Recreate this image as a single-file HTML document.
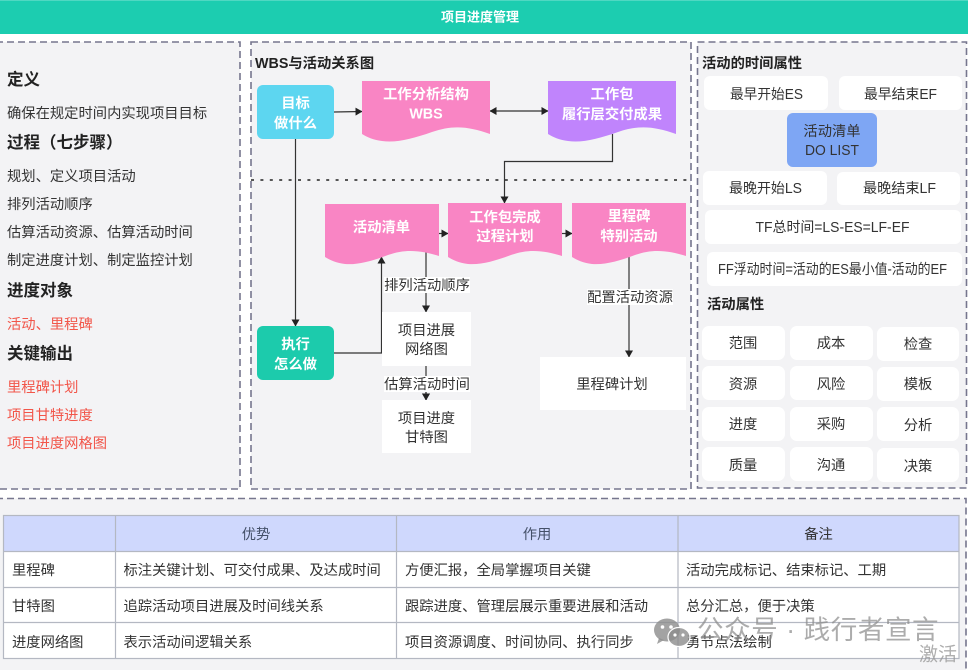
<!DOCTYPE html>
<html lang="zh">
<head>
<meta charset="utf-8">
<title>项目进度管理</title>
<style>
html,body{margin:0;padding:0;background:#fff;width:968px;height:670px;overflow:hidden}
svg{display:block;filter:blur(.3px)}
text{font-family:"Liberation Sans","Noto Sans CJK SC",sans-serif;font-size:14.3px;fill:#333;dominant-baseline:central;transform:translateY(1px)}
.c{text-anchor:middle}
.b{font-weight:700;fill:#222}
.h{font-size:16.5px;font-weight:700;fill:#222}
.t{font-size:14.3px;font-weight:700;fill:#222}
.w{font-weight:700;fill:#fff;text-anchor:middle}
.r{fill:#f2564a}
.p{fill:#f3f3f5;stroke:#76768e;stroke-width:1.6;stroke-dasharray:7 4}
.l{stroke:#333;stroke-width:1.2;fill:none}
.n{fill:#fff}
</style>
</head>
<body>
<svg width="968" height="670" viewBox="0 0 968 670" xmlns="http://www.w3.org/2000/svg">
<defs>
<marker id="a" markerWidth="7" markerHeight="8" refX="6.5" refY="4" orient="auto-start-reverse" markerUnits="userSpaceOnUse"><path d="M0 0L7 4L0 8Z" fill="#222"/></marker>
</defs>
<rect width="968" height="670" fill="#fff"/>
<rect width="968" height="34" fill="#1ccdb0"/>
<rect width="968" height="1" fill="#4fd8c2"/>
<text class="w" x="480" y="16" style="font-size:13px">项目进度管理</text>

<!-- panels -->
<rect class="p" x="-4" y="42" width="244" height="447"/>
<rect class="p" x="251" y="42" width="440" height="447"/>
<rect class="p" x="697.500" y="42" width="269" height="446"/>
<rect class="p" x="-4" y="498.500" width="970" height="180"/>

<!-- left -->
<text class="h" x="7" y="79">定义</text>
<text x="7" y="113">确保在规定时间内实现项目目标</text>
<text class="h" x="7" y="142">过程（七步骤）</text>
<text x="7" y="176">规划、定义项目活动</text>
<text x="7" y="204">排列活动顺序</text>
<text x="7" y="232">估算活动资源、估算活动时间</text>
<text x="7" y="260">制定进度计划、制定监控计划</text>
<text class="h" x="7" y="290">进度对象</text>
<text class="r" x="7" y="324">活动、里程碑</text>
<text class="h" x="7" y="353">关键输出</text>
<text class="r" x="7" y="387">里程碑计划</text>
<text class="r" x="7" y="415">项目甘特进度</text>
<text class="r" x="7" y="443">项目进度网格图</text>

<!-- middle -->
<text class="t" x="255" y="63">WBS与活动关系图</text>
<line x1="251" y1="180" x2="691" y2="180" stroke="#222" stroke-width="1.6" stroke-dasharray="3 6.4"/>

<line class="l" x1="295.500" y1="139" x2="295.500" y2="326" marker-end="url(#a)"/>
<line class="l" x1="334" y1="112" x2="362" y2="111.500" marker-end="url(#a)"/>
<line class="l" x1="490" y1="111" x2="548" y2="111" marker-start="url(#a)" marker-end="url(#a)"/>
<path class="l" d="M612.500 134V161.500H504.500V203" marker-end="url(#a)"/>
<path class="l" d="M334 353H381.500V257" marker-end="url(#a)"/>
<line class="l" x1="439" y1="233.500" x2="448" y2="233.500" marker-end="url(#a)"/>
<line class="l" x1="562" y1="233.500" x2="572" y2="233.500" marker-end="url(#a)"/>
<line class="l" x1="426" y1="252" x2="426" y2="312" marker-end="url(#a)"/>
<line class="l" x1="426" y1="366" x2="426" y2="400" marker-end="url(#a)"/>
<line class="l" x1="629" y1="257" x2="629" y2="357" marker-end="url(#a)"/>

<rect x="257" y="85" width="77" height="54" rx="6" fill="#5dd6f0"/>
<text class="w" x="295.500" y="103">目标</text>
<text class="w" x="295.500" y="123">做什么</text>

<path d="M362 81H490V134C468 126 452 125 432 132C412 139 396 143 382 141C373 140 367 137 362 134Z" fill="#f985c4"/>
<text class="w" x="426" y="94">工作分析结构</text>
<text class="w" x="426" y="113.500">WBS</text>

<path d="M548 81H676V134C654 126 638 125 618 132C598 139 582 143 568 141C559 140 553 137 548 134Z" fill="#c084fc"/>
<text class="w" x="612" y="94">工作包</text>
<text class="w" x="612" y="114">履行层交付成果</text>

<rect x="257" y="326" width="77" height="54" rx="6" fill="#1ccbac"/>
<text class="w" x="295.500" y="344">执行</text>
<text class="w" x="295.500" y="364">怎么做</text>

<path d="M325 204H439V256C420 250 405 249 388 255C372 261 358 265 345 264C336 263 330 260 325 257Z" fill="#f985c4"/>
<text class="w" x="381.500" y="227">活动清单</text>
<path d="M448 203H562V256C543 250 528 249 511 255C495 261 481 265 468 264C459 263 453 260 448 257Z" fill="#f985c4"/>
<text class="w" x="505" y="217">工作包完成</text>
<text class="w" x="505" y="236">过程计划</text>
<path d="M572 203H686V256C667 250 652 249 635 255C619 261 605 265 592 264C583 263 577 260 572 257Z" fill="#f985c4"/>
<text class="w" x="629" y="216">里程碑</text>
<text class="w" x="629" y="236">特别活动</text>

<rect class="n" x="384" y="277" width="86" height="16"/>
<text class="c" x="427" y="285">排列活动顺序</text>
<rect class="n" x="382" y="312" width="89" height="54"/>
<text class="c" x="426.500" y="330">项目进展</text>
<text class="c" x="426.500" y="349">网络图</text>
<rect class="n" x="384" y="376" width="86" height="16"/>
<text class="c" x="427" y="384">估算活动时间</text>
<line class="l" x1="426" y1="392" x2="426" y2="400" marker-end="url(#a)"/>
<rect class="n" x="382" y="400" width="89" height="53"/>
<text class="c" x="426.500" y="418">项目进度</text>
<text class="c" x="426.500" y="437">甘特图</text>
<rect class="n" x="587" y="289" width="86" height="16"/>
<text class="c" x="630" y="297">配置活动资源</text>
<rect class="n" x="540" y="357" width="146" height="53"/>
<text class="c" x="612" y="384">里程碑计划</text>

<!-- right -->
<text class="t" x="702" y="63">活动的时间属性</text>
<rect class="n" x="704" y="76" width="124" height="34" rx="6"/>
<text class="c" x="766.500" y="94" textLength="73" lengthAdjust="spacingAndGlyphs">最早开始ES</text>
<rect class="n" x="839" y="76" width="123" height="34" rx="6"/>
<text class="c" x="900.500" y="94" textLength="73" lengthAdjust="spacingAndGlyphs">最早结束EF</text>
<rect x="787" y="113" width="90" height="54" rx="6" fill="#7ea6f4"/>
<text class="c" x="832" y="131">活动清单</text>
<text class="c" x="832" y="150" textLength="54" lengthAdjust="spacingAndGlyphs">DO LIST</text>
<rect class="n" x="703" y="171" width="124" height="34" rx="6"/>
<text class="c" x="765.500" y="188" textLength="73" lengthAdjust="spacingAndGlyphs">最晚开始LS</text>
<rect class="n" x="837" y="172" width="123" height="33" rx="6"/>
<text class="c" x="899.500" y="188" textLength="73" lengthAdjust="spacingAndGlyphs">最晚结束LF</text>
<rect class="n" x="705" y="210" width="256" height="34" rx="6"/>
<text class="c" x="832.500" y="227" textLength="154" lengthAdjust="spacingAndGlyphs">TF总时间=LS-ES=LF-EF</text>
<rect class="n" x="707" y="252" width="255" height="34" rx="6"/>
<text class="c" x="832.500" y="269" textLength="229" lengthAdjust="spacingAndGlyphs">FF浮动时间=活动的ES最小值-活动的EF</text>
<text class="t" x="707" y="304">活动属性</text>

<rect class="n" x="702" y="326" width="83" height="34" rx="7"/><text class="c" x="743" y="343">范围</text>
<rect class="n" x="790" y="326" width="83" height="34" rx="7"/><text class="c" x="831" y="343">成本</text>
<rect class="n" x="877" y="327" width="82" height="34" rx="7"/><text class="c" x="918" y="344">检查</text>
<rect class="n" x="702" y="366" width="83" height="34" rx="7"/><text class="c" x="743" y="384">资源</text>
<rect class="n" x="790" y="366" width="83" height="34" rx="7"/><text class="c" x="831" y="384">风险</text>
<rect class="n" x="877" y="367" width="82" height="34" rx="7"/><text class="c" x="918" y="384">模板</text>
<rect class="n" x="702" y="407" width="83" height="34" rx="7"/><text class="c" x="743" y="424">进度</text>
<rect class="n" x="790" y="407" width="83" height="34" rx="7"/><text class="c" x="831" y="424">采购</text>
<rect class="n" x="877" y="407" width="82" height="34" rx="7"/><text class="c" x="918" y="425">分析</text>
<rect class="n" x="702" y="447" width="83" height="34" rx="7"/><text class="c" x="743" y="465">质量</text>
<rect class="n" x="790" y="447" width="83" height="34" rx="7"/><text class="c" x="831" y="465">沟通</text>
<rect class="n" x="877" y="448" width="82" height="34" rx="7"/><text class="c" x="918" y="466">决策</text>

<!-- table -->
<rect x="3.500" y="515.500" width="955.500" height="143" fill="#fff"/>
<rect x="3.500" y="515.500" width="955.500" height="36" fill="#cfd8fd"/>
<g stroke="#b4b8c2" stroke-width="1.2" fill="none">
<rect x="3.500" y="515.500" width="955.500" height="143"/>
<line x1="115.500" y1="515" x2="115.500" y2="659"/>
<line x1="396.500" y1="515" x2="396.500" y2="659"/>
<line x1="678" y1="515" x2="678" y2="659"/>
<line x1="3" y1="551.500" x2="959" y2="551.500"/>
<line x1="3" y1="587.500" x2="959" y2="587.500"/>
<line x1="3" y1="622.500" x2="959" y2="622.500"/>
</g>
<text class="c" x="256" y="534" style="fill:#445068">优势</text>
<text class="c" x="537" y="534" style="fill:#445068">作用</text>
<text class="c" x="818.500" y="534" style="fill:#333">备注</text>
<text x="12" y="570">里程碑</text>
<text x="123.500" y="570">标注关键计划、可交付成果、及达成时间</text>
<text x="405" y="570">方便汇报，全局掌握项目关键</text>
<text x="686" y="570">活动完成标记、结束标记、工期</text>
<text x="12" y="606">甘特图</text>
<text x="123.500" y="606">追踪活动项目进展及时间线关系</text>
<text x="405" y="606">跟踪进度、管理层展示重要进展和活动</text>
<text x="686" y="606">总分汇总，便于决策</text>
<text x="12" y="642">进度网络图</text>
<text x="123.500" y="642">表示活动间逻辑关系</text>
<text x="405" y="642">项目资源调度、时间协同、执行同步</text>
<text x="686" y="642">勇节点法绘制</text>

<!-- watermark -->
<g fill="#8c8c8c" fill-opacity=".8">
<ellipse cx="667" cy="630" rx="13" ry="11.500"/>
<path d="M659 638l-2 6 7-4z"/>
<ellipse cx="679" cy="637" rx="11" ry="9.500" stroke="#fff" stroke-width="1.200"/>
</g>
<circle cx="662.500" cy="627" r="1.800" fill="#fff"/><circle cx="671" cy="627" r="1.800" fill="#fff"/>
<circle cx="675" cy="635" r="1.600" fill="#fff"/><circle cx="683" cy="635" r="1.600" fill="#fff"/>
<text x="697" y="629" style="font-size:26.500px;fill:#8c8c8c;fill-opacity:.72;letter-spacing:.6px">公众号 · 践行者宣言</text>
<text x="919" y="654" style="font-size:19px;fill:#9a9a9a;fill-opacity:.8">激活</text>
</svg>
</body>
</html>
